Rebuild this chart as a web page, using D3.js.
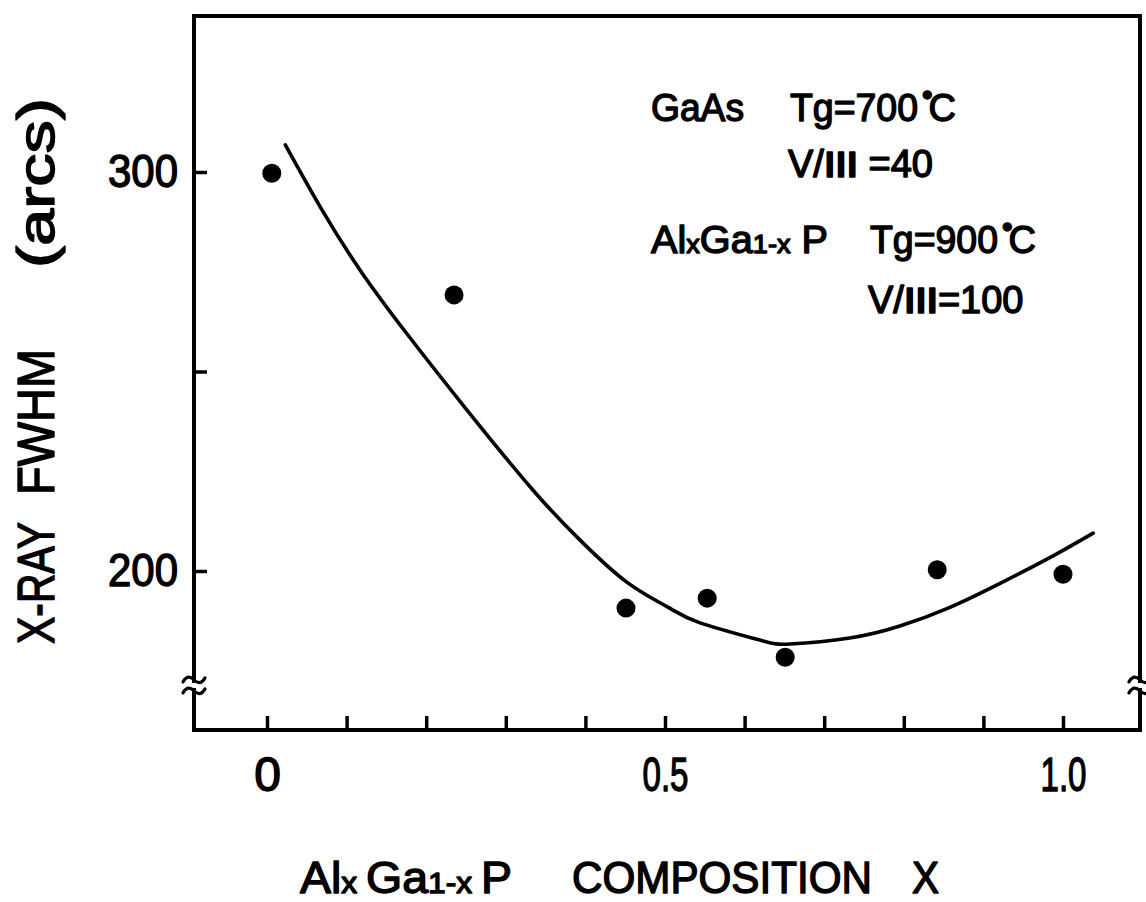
<!DOCTYPE html>
<html>
<head>
<meta charset="utf-8">
<script src="https://cdn.jsdelivr.net/npm/d3@7"></script>
<style>
  html, body { margin: 0; padding: 0; background: #fff; }
  svg { display: block; }
  text { font-family: "Liberation Sans", Arial, sans-serif; fill: #000; white-space: pre; }
  .heavy { stroke: #000; stroke-width: 1.4px; stroke-linejoin: round; }
  .roman { font-family: "Noto Sans CJK JP", "DejaVu Sans", sans-serif; }
</style>
</head>
<body>
<svg id="chart" width="1146" height="902"></svg>
<script>
// ---- data ----
const pointX = [0.006, 0.235, 0.451, 0.553, 0.651, 0.842, 1.0];
const pointY = [299.7, 269.2, 190.7, 193.2, 178.4, 200.3, 199.2];

const curveX = [0.023, 0.067, 0.117, 0.176, 0.251, 0.334, 0.393, 0.452, 0.503, 0.544, 0.619, 0.657, 0.732, 0.795, 0.858, 0.921, 0.984, 1.038];
const curveY = [306.8, 291.2, 275.4, 259.4, 240.4, 220.3, 207.8, 197.2, 191.0, 187.0, 182.7, 181.7, 183.2, 186.2, 190.9, 196.9, 203.4, 209.5];

const xTicks = [0, 0.1, 0.2, 0.3, 0.4, 0.5, 0.6, 0.7, 0.8, 0.9, 1.0];
const xTickLabels = {"0": "0", "0.5": "0.5", "1": "1.0"};
const yTicks = [200, 250, 300];
const yTickLabels = {"200": "200", "300": "300"};
const yBreak = 171.7;

// ---- layout ----
const svg = d3.select("#chart");
const frame = {left: 194, right: 1140, top: 16, bottom: 730};

const x = d3.scaleLinear().domain([0, 1]).range([267, 1063]);
const y = d3.scaleLinear().domain([200, 300]).range([571, 172]);

const lw = 4;

// frame (with breaks on the vertical sides)
const yb = y(yBreak);
const gapTop = yb - 3, gapBot = yb + 6;
const framePath = [
  `M${frame.left},${gapTop} L${frame.left},${frame.top} L${frame.right},${frame.top} L${frame.right},${gapTop}`,
  `M${frame.left},${gapBot} L${frame.left},${frame.bottom} L${frame.right},${frame.bottom} L${frame.right},${gapBot}`
].join(" ");
svg.append("path").attr("d", framePath)
  .attr("fill", "none").attr("stroke", "#000").attr("stroke-width", lw)
  .attr("stroke-linejoin", "miter").attr("stroke-linecap", "square");

// break marks (tildes)
function tilde(cx, cy) {
  return `M${cx - 11},${cy + 2} C${cx - 7},${cy - 5} ${cx - 3},${cy - 3} ${cx},${cy} S${cx + 7},${cy + 5} ${cx + 11},${cy - 2}`;
}
[frame.left, frame.right].forEach(cx => {
  svg.append("path").attr("d", tilde(cx, gapTop - 1))
    .attr("fill", "none").attr("stroke", "#000").attr("stroke-width", 3.2).attr("stroke-linecap", "round");
  svg.append("path").attr("d", tilde(cx, gapBot + 1))
    .attr("fill", "none").attr("stroke", "#000").attr("stroke-width", 3.2).attr("stroke-linecap", "round");
});

// y axis (ticks inward)
const yAxis = d3.axisLeft(y)
  .tickValues(yTicks)
  .tickSizeInner(-13).tickSizeOuter(0).tickPadding(16)
  .tickFormat(d => yTickLabels[String(d)] || "");
const gy = svg.append("g").attr("transform", `translate(${frame.left},0)`).call(yAxis);
gy.select(".domain").remove();
gy.selectAll(".tick line").attr("stroke", "#000").attr("stroke-width", 3.5);
gy.selectAll(".tick text").attr("font-size", 46).attr("fill", "#000").attr("class", "heavy")
  .style("font-family", '"Liberation Sans", Arial, sans-serif')
  .attr("textLength", 70).attr("lengthAdjust", "spacingAndGlyphs");

// x axis (ticks inward)
const xAxis = d3.axisBottom(x)
  .tickValues(xTicks)
  .tickSizeInner(-14).tickSizeOuter(0).tickPadding(27)
  .tickFormat(d => xTickLabels[String(d)] || "");
const gx = svg.append("g").attr("transform", `translate(0,${frame.bottom})`).call(xAxis);
gx.select(".domain").remove();
gx.selectAll(".tick line").attr("stroke", "#000").attr("stroke-width", 3.5);
gx.selectAll(".tick text").attr("font-size", 48).attr("fill", "#000").attr("class", "heavy")
  .style("font-family", '"Liberation Sans Narrow", "Liberation Sans", Arial, sans-serif')
  .each(function(d) {
    const t = d3.select(this);
    if (t.text() === "0.5" || t.text() === "1.0") {
      t.attr("textLength", 46).attr("lengthAdjust", "spacingAndGlyphs");
    }
  });

// fitted curve
const curvePts = curveX.map((d, i) => [d, curveY[i]]);
const line = d3.line().x(d => x(d[0])).y(d => y(d[1])).curve(d3.curveNatural);
svg.append("path").datum(curvePts).attr("d", line)
  .attr("fill", "none").attr("stroke", "#000").attr("stroke-width", 3.6).attr("stroke-linecap", "round");

// data points
const pts = pointX.map((d, i) => [d, pointY[i]]);
svg.selectAll("circle.pt").data(pts).enter().append("circle")
  .attr("class", "pt").attr("cx", d => x(d[0])).attr("cy", d => y(d[1])).attr("r", 9.5).attr("fill", "#000");

// annotation text
const annFont = 38;
function txt(s, px, py, opts = {}) {
  const t = svg.append("text").attr("class", "heavy").attr("x", px).attr("y", py)
    .attr("font-size", opts.size || annFont).text(s);
  if (opts.len) t.attr("textLength", opts.len).attr("lengthAdjust", "spacingAndGlyphs");
  if (opts.anchor) t.attr("text-anchor", opts.anchor);
  return t;
}
function tempText(label, px, py, len) {
  const t = svg.append("text").attr("class", "heavy").attr("x", px).attr("y", py).attr("font-size", annFont);
  t.append("tspan").attr("textLength", len).attr("lengthAdjust", "spacingAndGlyphs").text(label);
  t.append("tspan").attr("dx", 4).attr("dy", -16).attr("font-size", 30).text("•");
  t.append("tspan").attr("dx", -4).attr("dy", 16).text("C");
  return t;
}
function ratioText(value, px, py) {
  const t = svg.append("text").attr("class", "heavy").attr("x", px).attr("y", py).attr("font-size", annFont);
  t.append("tspan").text("V/");
  t.append("tspan").attr("class", "roman").attr("font-weight", "bold").attr("font-size", 34).text("Ⅲ");
  t.append("tspan").text(value);
  return t;
}
// line 1
txt("GaAs", 651, 121, {len: 93});
tempText("Tg=700", 790, 121, 128);
// line 2
ratioText(" =40", 788, 177);
// line 3
const l3 = svg.append("text").attr("class", "heavy").attr("x", 651).attr("y", 253).attr("font-size", annFont);
l3.append("tspan").text("Al");
l3.append("tspan").attr("font-size", 26).text("x");
l3.append("tspan").text("Ga");
l3.append("tspan").attr("font-size", 26).text("1-x");
l3.append("tspan").text(" P");
l3.attr("textLength", 177).attr("lengthAdjust", "spacingAndGlyphs");
tempText("Tg=900", 870, 253, 128);
// line 4
ratioText("=100", 868, 313);

// x-axis title
const xt = svg.append("text").attr("class", "heavy").attr("x", 300).attr("y", 893).attr("font-size", 44)
  .attr("textLength", 212).attr("lengthAdjust", "spacingAndGlyphs");
xt.append("tspan").text("Al");
xt.append("tspan").attr("font-size", 30).text("x ");
xt.append("tspan").text("Ga");
xt.append("tspan").attr("font-size", 30).text("1-x ");
xt.append("tspan").text("P");
txt("COMPOSITION", 572, 893, {size: 44, len: 300});
txt("X", 912, 893, {size: 44, len: 27});

// y-axis title (rotated, three words; [word, lower end y, length])
const yTitle = [["X-RAY", 644, 122], ["FWHM", 495, 146], ["(arcs)", 268, 170]];
yTitle.forEach(([w, by, len]) => {
  svg.append("text").attr("class", "heavy")
    .attr("transform", `translate(54,${by}) rotate(-90)`)
    .attr("font-size", 52)
    .attr("textLength", len).attr("lengthAdjust", "spacingAndGlyphs")
    .text(w);
});
</script>
</body>
</html>
